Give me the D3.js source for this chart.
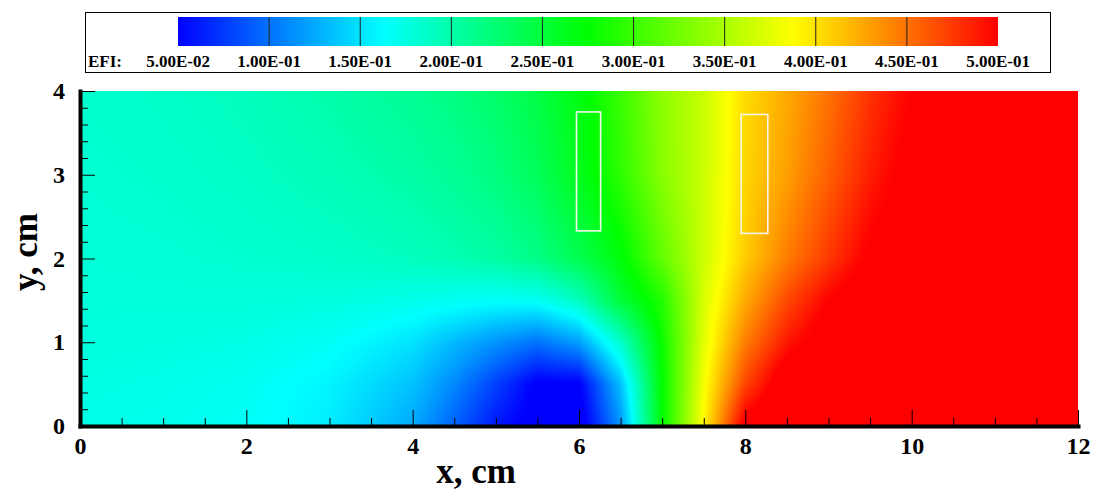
<!DOCTYPE html>
<html lang="en">
<head>
    <meta charset="utf-8" />
    <title>EFI field</title>
    <script src="https://cdnjs.cloudflare.com/ajax/libs/d3/7.8.5/d3.min.js"></script>
    <style>
        body { margin: 0; background: #fff; }
        svg { display: block; font-family: "Liberation Serif", "Times New Roman", serif; font-weight: bold; }
        .axis path { stroke: #000; stroke-width: 4; stroke-linecap: square; }
        .axis .major line { stroke: #000; stroke-width: 3.5; }
        .axis .minor line { stroke: #000; stroke-width: 1.6; }
        .axis text { font-size: 24px; font-family: "Liberation Serif", serif; font-weight: bold; fill: #000; }
    </style>
</head>
<body>
<script>
    // grid nodes (cm)
    const xs = [0, 1, 2, 3, 4, 4.5, 5, 5.5, 6, 6.5, 7, 7.5, 8, 8.5, 9, 9.5, 10, 11, 12];
    const ys = [0, 0.5, 1, 1.5, 2, 3, 4];

    // EFI values along each row, one value per xs node
    const efiY0   = [0.173, 0.171, 0.166, 0.155, 0.125, 0.093, 0.060, 0.040, 0.036, 0.115, 0.275, 0.390, 0.510, 0.530, 0.540, 0.545, 0.550, 0.550, 0.550];
    const efiY05  = [0.175, 0.173, 0.169, 0.158, 0.136, 0.110, 0.078, 0.046, 0.047, 0.135, 0.275, 0.383, 0.470, 0.520, 0.535, 0.545, 0.550, 0.550, 0.550];
    const efiY1   = [0.177, 0.176, 0.174, 0.167, 0.150, 0.132, 0.115, 0.100, 0.120, 0.185, 0.280, 0.375, 0.445, 0.490, 0.515, 0.530, 0.540, 0.550, 0.550];
    const efiY15  = [0.179, 0.179, 0.179, 0.177, 0.172, 0.168, 0.165, 0.167, 0.190, 0.250, 0.290, 0.370, 0.425, 0.468, 0.500, 0.520, 0.530, 0.545, 0.550];
    const efiY2   = [0.180, 0.181, 0.183, 0.186, 0.191, 0.196, 0.202, 0.216, 0.240, 0.270, 0.318, 0.365, 0.410, 0.445, 0.475, 0.505, 0.520, 0.540, 0.550];
    const efiY3   = [0.182, 0.184, 0.188, 0.194, 0.202, 0.209, 0.219, 0.236, 0.262, 0.295, 0.335, 0.364, 0.405, 0.430, 0.458, 0.487, 0.510, 0.535, 0.550];
    const efiY4   = [0.184, 0.187, 0.192, 0.200, 0.210, 0.218, 0.229, 0.245, 0.268, 0.300, 0.337, 0.363, 0.403, 0.425, 0.450, 0.478, 0.500, 0.530, 0.550];
    const efiRows = [efiY0, efiY05, efiY1, efiY15, efiY2, efiY3, efiY4];

    // legend levels
    const levels = [0.05, 0.10, 0.15, 0.20, 0.25, 0.30, 0.35, 0.40, 0.45, 0.50];

    // white outlined rectangles (cm)
    const probes = [
        { x0: 5.97, x1: 6.26, y0: 2.33, y1: 3.75 },
        { x0: 7.95, x1: 8.27, y0: 2.30, y1: 3.72 }
    ];

    const xTicksMajor = [0, 2, 4, 6, 8, 10, 12];
    const yTicksMajor = [0, 1, 2, 3, 4];

    const W = 1094, H = 490;
    const plot = { left: 80, right: 1078, top: 91, bottom: 426 };

    const svg = d3.select("body").append("svg")
        .attr("width", W)
        .attr("height", H);

    const x = d3.scaleLinear().domain([0, 12]).range([plot.left, plot.right]);
    const y = d3.scaleLinear().domain([0, 4]).range([plot.bottom, plot.top]);

    // Tecplot "small rainbow"
    const color = d3.scaleLinear()
        .domain([0.05, 0.1625, 0.275, 0.3875, 0.5])
        .range(["#0000ff", "#00ffff", "#00ff00", "#ffff00", "#ff0000"])
        .clamp(true);

    // lookup table for the raster
    const lutN = 1024;
    const lut = d3.range(lutN).map(i => d3.rgb(color(0.05 + 0.45 * i / (lutN - 1))));

    function locate(arr, v) {
        let i = d3.bisectRight(arr, v) - 1;
        i = Math.max(0, Math.min(arr.length - 2, i));
        const t = Math.max(0, Math.min(1, (v - arr[i]) / (arr[i + 1] - arr[i])));
        return [i, t];
    }

    // raster of the field
    const cw = plot.right - plot.left, ch = plot.bottom - plot.top;
    const canvas = document.createElement("canvas");
    canvas.width = cw;
    canvas.height = ch;
    const ctx = canvas.getContext("2d");
    const img = ctx.createImageData(cw, ch);
    const colIdx = d3.range(cw).map(i => locate(xs, x.invert(plot.left + i + 0.5)));
    for (let j = 0; j < ch; j++) {
        const [r, ty] = locate(ys, y.invert(plot.top + j + 0.5));
        const lo = efiRows[r], hi = efiRows[r + 1];
        for (let i = 0; i < cw; i++) {
            const [c, tx] = colIdx[i];
            const a = lo[c] + (lo[c + 1] - lo[c]) * tx;
            const b = hi[c] + (hi[c + 1] - hi[c]) * tx;
            const v = a + (b - a) * ty;
            let k = Math.round((v - 0.05) / 0.45 * (lutN - 1));
            k = Math.max(0, Math.min(lutN - 1, k));
            const col = lut[k], p = (j * cw + i) * 4;
            img.data[p] = col.r;
            img.data[p + 1] = col.g;
            img.data[p + 2] = col.b;
            img.data[p + 3] = 255;
        }
    }
    ctx.putImageData(img, 0, 0);

    svg.append("image")
        .attr("x", plot.left)
        .attr("y", plot.top)
        .attr("width", cw)
        .attr("height", ch)
        .attr("preserveAspectRatio", "none")
        .attr("href", canvas.toDataURL());

    // probe rectangles
    svg.append("g").selectAll("rect")
        .data(probes)
        .join("rect")
        .attr("x", d => x(d.x0))
        .attr("y", d => y(d.y1))
        .attr("width", d => x(d.x1) - x(d.x0))
        .attr("height", d => y(d.y0) - y(d.y1))
        .attr("fill", "none")
        .attr("stroke", "#f4f4ee")
        .attr("stroke-width", 1.6);

    // axes: minor ticks first, then major ticks with labels
    const xMinor = d3.range(0, 12.01, 0.5).filter(v => v % 2 !== 0);
    const yMinor = d3.range(0, 4.01, 0.2).filter(v => Math.abs(v - Math.round(v)) > 0.01);

    svg.append("g").attr("class", "axis minor")
        .attr("transform", `translate(0,${plot.bottom})`)
        .call(d3.axisBottom(x).tickValues(xMinor).tickSize(-8).tickSizeOuter(0).tickFormat(""))
        .select(".domain").remove();
    svg.append("g").attr("class", "axis minor")
        .attr("transform", `translate(${plot.left},0)`)
        .call(d3.axisLeft(y).tickValues(yMinor).tickSize(-8).tickSizeOuter(0).tickFormat(""))
        .select(".domain").remove();

    svg.append("g").attr("class", "axis major")
        .attr("transform", `translate(0,${plot.bottom})`)
        .call(d3.axisBottom(x).tickValues(xTicksMajor).tickSize(-16).tickSizeOuter(0).tickPadding(11).tickFormat(d3.format("d")));
    svg.append("g").attr("class", "axis major")
        .attr("transform", `translate(${plot.left},0)`)
        .call(d3.axisLeft(y).tickValues(yTicksMajor).tickSize(-15).tickSizeOuter(0).tickPadding(15).tickFormat(d3.format("d")));

    svg.append("text")
        .attr("x", 476)
        .attr("y", 483)
        .attr("text-anchor", "middle")
        .style("font-size", "35px")
        .text("x, cm");

    svg.append("text")
        .attr("transform", "translate(37,252) rotate(-90)")
        .attr("text-anchor", "middle")
        .style("font-size", "35px")
        .text("y, cm");

    // colour legend
    const lx = d3.scaleLinear().domain([0.05, 0.5]).range([178, 998]);
    const legend = svg.append("g").attr("class", "legend");

    legend.append("rect")
        .attr("x", 85.5).attr("y", 12.5)
        .attr("width", 965).attr("height", 60)
        .attr("fill", "#fff")
        .attr("stroke", "#000")
        .attr("stroke-width", 1);

    const grad = svg.append("defs").append("linearGradient")
        .attr("id", "efi-grad")
        .attr("x1", "0%").attr("x2", "100%");
    grad.selectAll("stop")
        .data(color.domain())
        .join("stop")
        .attr("offset", d => (d - 0.05) / 0.45)
        .attr("stop-color", d => color(d));

    legend.append("rect")
        .attr("x", lx(0.05)).attr("y", 17)
        .attr("width", lx(0.5) - lx(0.05)).attr("height", 29)
        .attr("fill", "url(#efi-grad)");

    legend.selectAll("line")
        .data(levels.slice(1, -1))
        .join("line")
        .attr("x1", d => lx(d)).attr("x2", d => lx(d))
        .attr("y1", 17).attr("y2", 46)
        .attr("stroke", "#222")
        .attr("stroke-width", 1);

    const sci = v => {
        const e = Math.floor(Math.log10(v) + 1e-9);
        const m = (v / Math.pow(10, e)).toFixed(2);
        return `${m}E${e < 0 ? "-" : "+"}${String(Math.abs(e)).padStart(2, "0")}`;
    };

    legend.selectAll("text.lev")
        .data(levels)
        .join("text")
        .attr("class", "lev")
        .attr("x", d => lx(d))
        .attr("y", 67)
        .attr("text-anchor", "middle")
        .style("font-size", "17px")
        .text(sci);

    legend.append("text")
        .attr("x", 88)
        .attr("y", 67)
        .style("font-size", "17px")
        .text("EFI:");
</script>
</body>
</html>
